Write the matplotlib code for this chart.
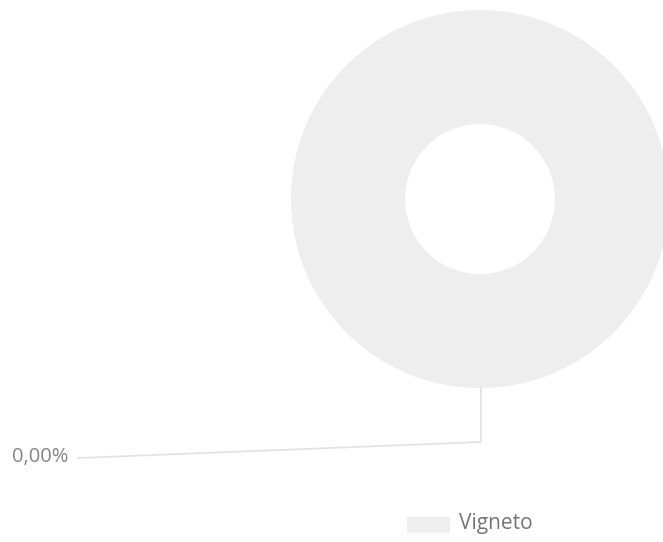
import matplotlib.pyplot as plt
import numpy as np

plt.rcParams['font.family'] = ['Open Sans', 'DejaVu Sans']

categories = ['Vigneto']
values = [0.0]
pct_labels = ['0,00%']
colors = ['#eeeeee']

W, H = 663, 542
fig = plt.figure(figsize=(W / 100, H / 100), dpi=100)
ax = fig.add_axes([0, 0, 1, 1])

cx, cy = 480, 199
r_out, r_in = 189, 75

# no data -> draw the empty placeholder ring
vals = np.array(values)
if vals.sum() == 0:
    vals = np.ones_like(vals)
wedges, _ = ax.pie(vals, colors=colors, radius=r_out, center=(cx, cy),
                   startangle=90, counterclock=False, frame=True,
                   wedgeprops=dict(width=r_out - r_in, edgecolor='none'))
ax.set_xlim(0, W)
ax.set_ylim(H, 0)
ax.set_aspect('equal')
ax.axis('off')

# leader line from the bottom of the ring
lx = [cx + 1, cx + 1, 78]
ly = [cy + r_out, 442, 458]
ax.plot(lx, ly, color='#e2e2e2', lw=1.2, solid_joinstyle='miter')
ax.text(12, 457, pct_labels[0], fontsize=14.5, color='#858585', va='center', ha='left')

# legend
ax.add_patch(plt.Rectangle((407, 517), 43, 16, color=colors[0], lw=0))
ax.text(459, 524, categories[0], fontsize=15, color='#757575', va='center', ha='left')

fig.savefig('out.png', dpi=100)
